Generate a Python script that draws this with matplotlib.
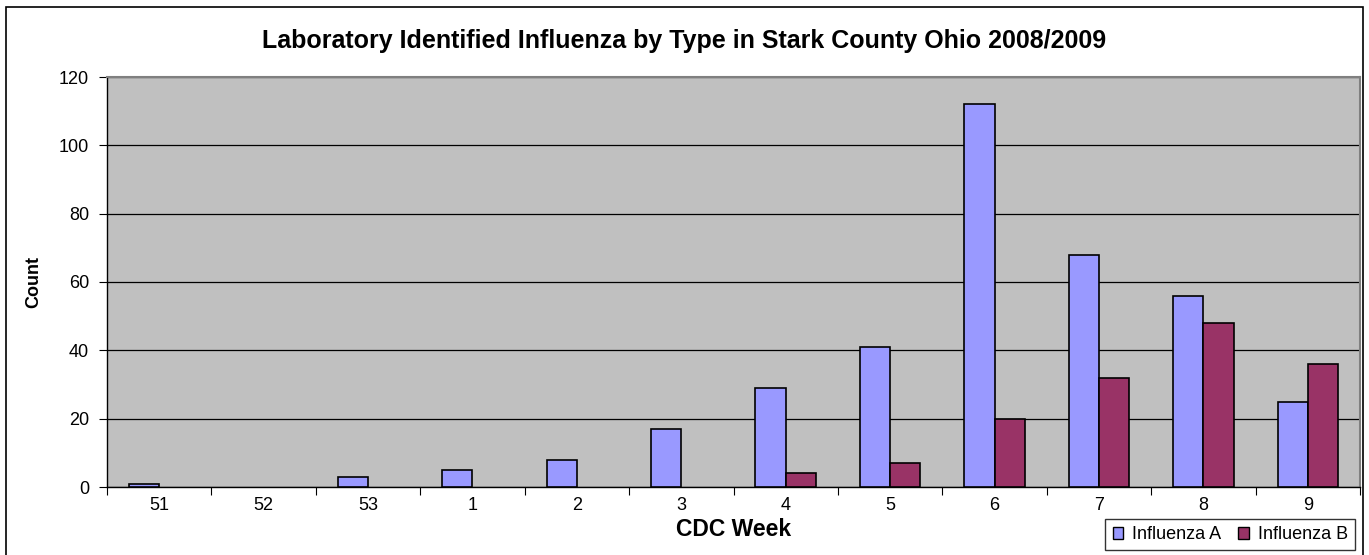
import numpy as np
import matplotlib.pyplot as plt
from matplotlib.patches import Rectangle

plt.rcParams['font.family'] = ['Liberation Sans', 'DejaVu Sans']

# Données
semaines = ['51', '52', '53', '1', '2', '3', '4', '5', '6', '7', '8', '9']
influenza_a = [1, 0, 3, 5, 8, 17, 29, 41, 112, 68, 56, 25]
influenza_b = [0, 0, 0, 0, 0, 0, 4, 7, 20, 32, 48, 36]

W, H = 1369, 555
fig = plt.figure(figsize=(W / 100, H / 100), dpi=100)
ax = fig.add_axes([107 / W, 1 - 487 / H, (1360 - 107) / W, (487 - 77) / H])

x = np.arange(len(semaines))
largeur = 0.29


def barres(valeurs, decalage, couleur, nom):
    # les valeurs nulles ne sont pas dessinées (pas de trait au sol)
    v = np.array(valeurs, dtype=float)
    masque = v > 0
    ax.bar(x[masque] + decalage, v[masque], largeur, color=couleur, edgecolor='black',
           linewidth=1.2, label=nom, zorder=3)


barres(influenza_a, -largeur / 2, '#9999FF', 'Influenza A')
barres(influenza_b, largeur / 2, '#993366', 'Influenza B')

ax.set_facecolor('#C0C0C0')
ax.set_xlim(-0.5, len(semaines) - 0.5)
ax.set_ylim(0, 120)
ax.set_yticks(range(0, 121, 20))
ax.yaxis.grid(True, color='black', linewidth=0.9, zorder=1)
ax.set_axisbelow(True)

# ticks x entre les catégories, labels au centre
ax.set_xticks(np.arange(-0.5, len(semaines), 1))
ax.set_xticklabels([])
ax.set_xticks(x, minor=True)
ax.set_xticklabels(semaines, minor=True, fontsize=13)
ax.tick_params(axis='x', which='minor', length=0, pad=7)
ax.tick_params(axis='x', which='major', length=6, direction='out', color='black')
ax.tick_params(axis='y', length=6, direction='out', labelsize=13, pad=7)

for s in ['top', 'right']:
    ax.spines[s].set_color('#808080')
    ax.spines[s].set_linewidth(1.5)
for s in ['left', 'bottom']:
    ax.spines[s].set_color('black')
    ax.spines[s].set_linewidth(1.0)

ax.set_xlabel('CDC Week', fontsize=16.5, fontweight='bold', labelpad=3)
ax.set_ylabel('Count', fontsize=13, fontweight='bold')
ax.yaxis.set_label_coords(-0.052, 0.5)

fig.text(0.5, 1 - 41 / H, 'Laboratory Identified Influenza by Type in Stark County Ohio 2008/2009',
         ha='center', va='center', fontsize=18, fontweight='bold')

leg = fig.legend(loc='upper right', bbox_to_anchor=(1355 / W, 1 - 519 / H), ncol=2,
                 fontsize=13, frameon=True, fancybox=False, edgecolor='black',
                 handlelength=0.6, handleheight=0.6, handletextpad=0.5,
                 columnspacing=0.9, borderpad=0.4, borderaxespad=0)
leg.get_frame().set_linewidth(1.0)
for h in leg.legend_handles:
    h.set_linewidth(1.0)

# cadre extérieur
fig.patches.append(Rectangle((6 / W, -0.05), (1363 - 6) / W, 1.05 - 7 / H,
                             transform=fig.transFigure, fill=False,
                             edgecolor='black', linewidth=1.2))

fig.savefig('out.png', dpi=100)
